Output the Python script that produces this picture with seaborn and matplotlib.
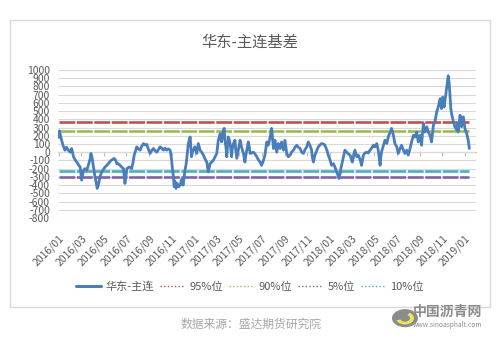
import matplotlib
matplotlib.use("Agg")
import numpy as np
import pandas as pd
import matplotlib.pyplot as plt
import matplotlib.dates as mdates
from matplotlib.lines import Line2D
from matplotlib.patches import Rectangle, Circle, Wedge
import seaborn as sns

# ---- data -------------------------------------------------------------
start_date = "2016-01-01"
day_offsets = [
    0, 1, 4, 7, 11, 16, 20, 25, 30, 34, 39, 43, 48, 52, 57, 61, 66, 70, 75, 79,
    84, 86, 89, 93, 97, 100, 103, 106, 109, 112, 115, 120, 124, 129, 133, 138, 142, 146, 149, 153,
    156, 160, 165, 169, 174, 176, 178, 181, 183, 186, 189, 193, 196, 200, 203, 207, 210, 214, 219, 223,
    228, 232, 237, 241, 246, 250, 255, 259, 264, 268, 273, 277, 282, 286, 291, 295, 300, 302, 304, 306,
    309, 311, 313, 316, 319, 323, 327, 331, 335, 338, 340, 343, 345, 347, 349, 352, 354, 356, 358, 360,
    363, 367, 372, 376, 381, 385, 390, 394, 399, 403, 406, 408, 412, 417, 421, 426, 428, 430, 433, 435,
    437, 439, 441, 444, 446, 448, 451, 453, 455, 457, 460, 462, 464, 466, 468, 471, 475, 477, 480, 484,
    489, 493, 498, 502, 504, 507, 511, 514, 516, 520, 525, 529, 534, 538, 543, 547, 552, 556, 561, 565,
    570, 574, 576, 579, 583, 588, 592, 597, 601, 606, 610, 615, 619, 624, 628, 633, 637, 642, 646, 651,
    655, 660, 664, 669, 673, 678, 682, 684, 687, 691, 696, 700, 705, 709, 714, 718, 723, 727, 732, 736,
    741, 745, 750, 753, 756, 759, 761, 765, 768, 772, 777, 781, 786, 789, 792, 796, 799, 804, 808, 813,
    817, 822, 826, 831, 835, 840, 844, 849, 853, 858, 862, 865, 867, 869, 871, 876, 880, 885, 889, 894,
    898, 903, 907, 912, 916, 921, 925, 930, 934, 939, 943, 948, 952, 957, 961, 966, 970, 975, 979, 981,
    984, 986, 988, 993, 997, 1002, 1006, 1011, 1015, 1020, 1024, 1029, 1033, 1036, 1040, 1042, 1045, 1048, 1051, 1054,
    1058, 1060, 1065, 1069, 1074, 1076, 1078, 1083, 1087, 1092, 1096, 1101, 1105, 1108,
]
basis = [
    180, 260, 200, 145, 80, 25, 60, 25, 0, 45, -55, -90, -120, -150, -180, -340, -220, -200, -220, -160,
    -80, -15, -60, -180, -300, -360, -440, -400, -340, -280, -240, -210, -180, -160, -140, -110, -95, -85, -75, -100,
    -140, -140, -160, -180, -200, -300, -380, -280, -200, -190, -180, -190, -200, -120, -35, 20, 65, 40, 25, 70,
    105, 90, 95, 40, -15, 20, 45, 20, 0, 30, 65, 50, 25, 50, 25, 40, 25, -30, -95, -200,
    -300, -420, -350, -440, -380, -420, -400, -330, -400, -300, -220, -150, -75, 20, 105, 150, 185, 60, -55, 0,
    25, 65, -15, 105, 25, 0, -35, -80, -120, -240, -180, -140, -120, -95, -60, -15, 60, 145, 190, 225,
    180, 125, 200, 270, 290, 145, 50, -55, 80, 185, 150, 105, 20, -55, 40, 105, 145, 40, -75, 25,
    145, 60, -15, -120, -50, 25, 125, 60, -15, -10, 0, -20, -55, -90, -120, -160, -100, -35, 125, 85,
    180, 290, 200, 45, 145, 0, 105, 45, 125, 25, 145, -15, -55, -35, 0, 25, 60, 85, 60, 45,
    0, -15, 30, 65, 125, 80, 25, -60, -120, -35, 20, 65, 90, 105, 100, 85, 30, -35, -95, -160,
    -140, -180, -240, -280, -320, -260, -200, -120, -55, 25, 0, -20, -35, -80, -120, -40, 25, -55, -35, -90,
    -160, -35, -10, 0, -10, 25, 50, 85, 65, 105, 25, -80, -160, -60, 5, 85, 145, 105, 185, 245,
    290, 205, 105, 65, -15, 45, 85, 25, -15, 25, -35, 45, 125, 205, 185, 245, 125, 205, 85, 200,
    350, 260, 245, 310, 245, 205, 125, 330, 370, 490, 550, 650, 530, 670, 550, 620, 715, 820, 930, 815,
    530, 470, 370, 310, 270, 350, 245, 450, 310, 430, 290, 225, 145, 45,
]

series_name = "华东-主连"
pct_names = ["95%位", "90%位", "5%位", "10%位"]
pct_values = [370, 255, -300, -228]
pct_colors = ["#c0504d", "#9bbb59", "#8064a2", "#4bacc6"]

title_text = "华东-主连基差"
source_text = "数据来源：盛达期货研究院"

# ---- frame ------------------------------------------------------------
sns.set_theme(style="white")
plt.rcParams["font.family"] = ["Noto Sans CJK SC", "DejaVu Sans"]
plt.rcParams["axes.unicode_minus"] = False

dates = pd.Timestamp(start_date) + pd.to_timedelta(day_offsets, unit="D")
df = pd.DataFrame({"date": dates, "basis": basis})

fig = plt.figure(figsize=(5.0, 3.47), dpi=100)
fig.patch.set_facecolor("white")

# outer chart border
fig.patches.append(Rectangle((0.02, 0.1153), 0.96, 0.827, transform=fig.transFigure,
                             fill=False, edgecolor="#d9d9d9", linewidth=1.0))

ax = fig.add_axes([0.1166, 0.3718, 0.8354, 0.4265])
ax.set_facecolor("white")

# percentile reference lines over the same date span as the series
span = [dates[0], dates[-1]]
for name, val, col in zip(pct_names, pct_values, pct_colors):
    sns.lineplot(x=span, y=[val, val], ax=ax, color=col, linewidth=1.9,
                 linestyle=(0, (6, 0.6)), legend=False)

sns.lineplot(data=df, x="date", y="basis", ax=ax, color="#4a7ebb",
             linewidth=2.0, legend=False, estimator=None)

ax.set_ylim(-800, 1000)
ax.set_yticks(np.arange(-800, 1001, 100))
ax.set_xlim(pd.Timestamp(start_date) - pd.Timedelta(days=2),
            pd.Timestamp(start_date) + pd.Timedelta(days=1126))
ax.grid(axis="y", color="#d9d9d9", linewidth=0.8)
ax.grid(axis="x", visible=False)
ax.set_axisbelow(True)
for s in ax.spines.values():
    s.set_visible(False)
ax.set_xlabel("")
ax.set_ylabel("")

ax.xaxis.set_major_locator(mdates.MonthLocator(bymonth=[1, 3, 5, 7, 9, 11]))
ax.xaxis.set_major_formatter(mdates.DateFormatter("%Y/%m"))
ax.tick_params(axis="x", length=0, pad=11, labelsize=7.5, labelcolor="#595959")
ax.tick_params(axis="y", length=0, pad=6, labelsize=7.5, labelcolor="#595959")
for lab in ax.get_xticklabels():
    lab.set_rotation(45)
    lab.set_ha("right")
    lab.set_va("top")
    lab.set_rotation_mode("anchor")

# horizontal axis line at zero with its tick marks
ax0 = ax.twiny()
ax0.set_xlim(ax.get_xlim())
ax0.xaxis.set_major_locator(mdates.MonthLocator(bymonth=[1, 3, 5, 7, 9, 11]))
ax0.xaxis.set_ticks_position("bottom")
for k, s in ax0.spines.items():
    s.set_visible(k == "bottom")
ax0.spines["bottom"].set_position(("axes", 800 / 1800))
ax0.spines["bottom"].set_color("#bfbfbf")
ax0.spines["bottom"].set_linewidth(0.8)
ax0.tick_params(axis="x", length=3, width=0.8, color="#bfbfbf",
                labelbottom=False, labeltop=False)
ax0.grid(False)
ax0.set_zorder(ax.get_zorder() - 1)
ax.patch.set_visible(False)

# title
fig.text(0.5, 0.879, title_text, ha="center", va="center", fontsize=11, color="#595959")

# legend
handles = [Line2D([], [], color="#4a7ebb", linewidth=2.2)]
for col in pct_colors:
    handles.append(Line2D([], [], color=col, linewidth=1.0, linestyle=(0, (1, 1.6))))
fig.legend(handles, [series_name] + pct_names, loc="center", bbox_to_anchor=(0.5, 0.173),
           ncol=5, frameon=False, fontsize=8, handlelength=2.2, handletextpad=0.4,
           columnspacing=0.6, labelcolor="#595959")

# source note
fig.text(0.502, 0.066, source_text, ha="center", va="center", fontsize=8.5, color="#a6a6a6")

# site mark
fig.patches.append(Circle((0.81, 0.083), 0.026, transform=fig.transFigure,
                          facecolor="#8c8c8c", edgecolor="none"))
fig.patches.append(Wedge((0.81, 0.083), 0.018, 200, 60, width=0.008, transform=fig.transFigure,
                         facecolor="#f2e55c", edgecolor="none"))
fig.text(0.826, 0.101, "中国沥青网", ha="left", va="center", fontsize=10,
         color="#8c8c8c", fontweight="bold")
fig.text(0.826, 0.062, "www.sinoasphalt.com", ha="left", va="center", fontsize=4.8,
         color="#8c8c8c")

fig.savefig("out.png", dpi=100, facecolor="white")
